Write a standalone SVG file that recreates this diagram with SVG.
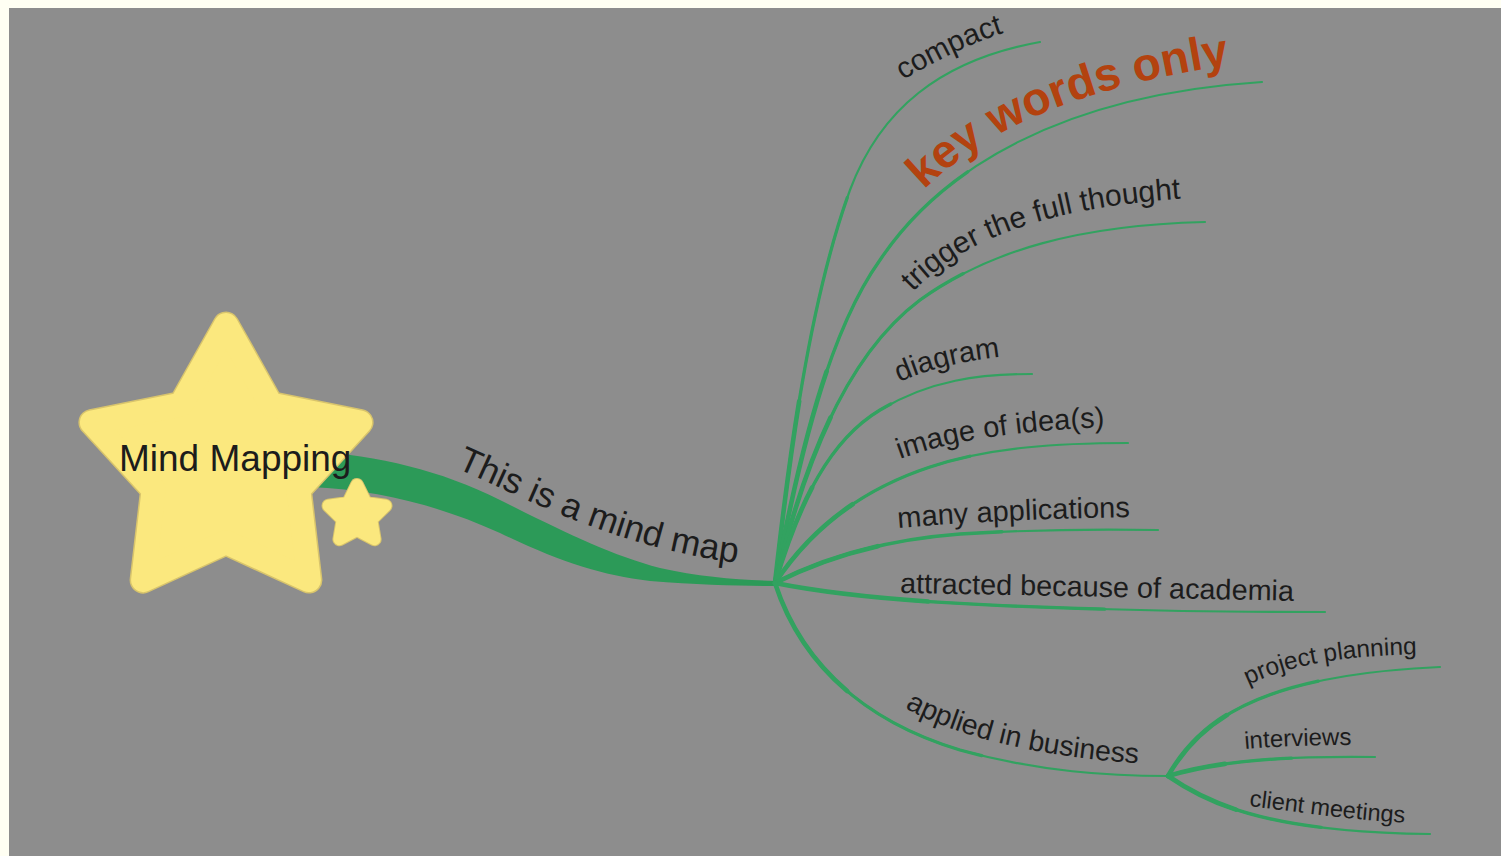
<svg xmlns="http://www.w3.org/2000/svg" width="1501" height="856" viewBox="0 0 1501 856">
<style>
.lbl{font-family:"Liberation Sans",Arial,Helvetica,sans-serif;fill:#1c1c1c;}
.br{fill:none;stroke:#32a260;stroke-linecap:round;stroke-linejoin:round;}
.w1{stroke-width:2.2;}
.w2{stroke-width:3.3;stroke-dasharray:60 200;}
.w3{stroke-width:4.6;stroke-dasharray:28 200;}
.star-edge{fill:#d8c46c;stroke:#d8c46c;stroke-linejoin:round;}
.star{fill:#fbe87e;stroke:#fbe87e;stroke-linejoin:round;}
</style>
<defs>
<path id="b_compact" pathLength="100" d="M 775 583 C 790 450, 810 300, 850 190 C 880 110, 940 60, 1040 42"/>
<path id="b_key" pathLength="100" d="M 775 583 C 800 450, 830 330, 880 260 C 940 170, 1060 95, 1262 82"/>
<path id="b_trig" pathLength="100" d="M 775 583 C 800 480, 840 360, 920 300 C 990 250, 1080 225, 1205 222"/>
<path id="b_diag" pathLength="100" d="M 775 583 C 800 500, 830 440, 880 410 C 930 380, 980 374, 1032 374"/>
<path id="b_img" pathLength="100" d="M 775 583 C 810 530, 860 490, 930 467 C 990 447, 1060 443, 1128 443"/>
<path id="b_many" pathLength="100" d="M 775 583 C 820 560, 880 540, 960 534 C 1040 529, 1100 529, 1158 530"/>
<path id="b_attr" pathLength="100" d="M 775 583 C 850 598, 950 605, 1100 609 C 1200 612, 1270 612, 1325 612"/>
<path id="b_app" pathLength="100" d="M 775 583 C 800 660, 860 720, 960 750 C 1040 772, 1110 776, 1168 776"/>
<path id="b_proj" pathLength="100" d="M 1168 776 C 1200 720, 1260 675, 1440 667"/>
<path id="b_int" pathLength="100" d="M 1168 776 C 1220 760, 1290 756, 1375 757"/>
<path id="b_cli" pathLength="100" d="M 1168 776 C 1210 805, 1270 832, 1430 834"/>

<path id="t_main" d="M 456 468 C 540 505, 625 552, 762 566"/>
<path id="t_compact" d="M 903 80 C 935 62, 970 42, 1020 28"/>
<path id="t_key" d="M 924 190 C 985 130, 1075 86, 1250 62"/>
<path id="t_trig" d="M 913 292 C 958 245, 1033 208, 1190 198"/>
<path id="t_diag" d="M 899 382 C 932 368, 967 360, 1010 356"/>
<path id="t_img" d="M 900 459 C 952 440, 1022 430, 1110 427"/>
<path id="t_many" d="M 898 528 C 980 521, 1060 518, 1140 517"/>
<path id="t_attr" d="M 900 593 C 1030 595, 1160 598, 1300 601"/>
<path id="t_app" d="M 905 708 C 960 738, 1040 757, 1146 764"/>
<path id="t_proj" d="M 1248 685 C 1292 664, 1342 656, 1422 654"/>
<path id="t_int" d="M 1245 749 C 1280 746, 1320 745, 1360 745"/>
<path id="t_cli" d="M 1249 806 C 1300 812, 1350 820, 1410 823"/>
</defs>

<rect x="0" y="0" width="1501" height="856" fill="#fffff3"/>
<rect x="9" y="8" width="1492" height="848" fill="#8d8d8d"/>

<g id="connectors">
  <path id="main-branch" fill="#2c9a58" d="M 310 451 C 380 456, 440 470, 500 500 C 560 530, 610 555, 660 568 C 700 577, 740 580, 776 581 L 776 586 C 740 586, 700 585, 650 581 C 600 575, 560 562, 500 533 C 440 506, 380 490, 310 487 Z"/>
  <g class="br">
    <use href="#b_compact" class="w1"/><use href="#b_compact" class="w2"/><use href="#b_compact" class="w3"/>
    <use href="#b_key" class="w1"/><use href="#b_key" class="w2"/><use href="#b_key" class="w3"/>
    <use href="#b_trig" class="w1"/><use href="#b_trig" class="w2"/><use href="#b_trig" class="w3"/>
    <use href="#b_diag" class="w1"/><use href="#b_diag" class="w2"/><use href="#b_diag" class="w3"/>
    <use href="#b_img" class="w1"/><use href="#b_img" class="w2"/><use href="#b_img" class="w3"/>
    <use href="#b_many" class="w1"/><use href="#b_many" class="w2"/><use href="#b_many" class="w3"/>
    <use href="#b_attr" class="w1"/><use href="#b_attr" class="w2"/><use href="#b_attr" class="w3"/>
    <use href="#b_app" class="w1"/><use href="#b_app" class="w2"/><use href="#b_app" class="w3"/>
    <use href="#b_proj" class="w1"/><use href="#b_proj" class="w2"/><use href="#b_proj" class="w3"/>
    <use href="#b_int" class="w1"/><use href="#b_int" class="w2"/><use href="#b_int" class="w3"/>
    <use href="#b_cli" class="w1"/><use href="#b_cli" class="w2"/><use href="#b_cli" class="w3"/>
  </g>
</g>

<g id="node-mind-mapping">
  <polygon class="star-edge" stroke-width="27" points="226,325 270.7,404.5 360.1,422.4 298.3,489.5 308.9,580.1 226,542 143.1,580.1 153.7,489.5 91.9,422.4 181.3,404.5"/>
  <polygon class="star" stroke-width="24" points="226,325 270.7,404.5 360.1,422.4 298.3,489.5 308.9,580.1 226,542 143.1,580.1 153.7,489.5 91.9,422.4 181.3,404.5"/>
  <text class="lbl" x="119" y="471" font-size="37">Mind Mapping</text>
</g>

<g id="node-small-star">
  <polygon class="star-edge" stroke-width="14" points="357,485 365.8,502.9 385.5,505.7 371.3,519.6 374.6,539.3 357,530 339.4,539.3 342.7,519.6 328.5,505.7 348.2,502.9"/>
  <polygon class="star" stroke-width="12" points="357,485 365.8,502.9 385.5,505.7 371.3,519.6 374.6,539.3 357,530 339.4,539.3 342.7,519.6 328.5,505.7 348.2,502.9"/>
</g>

<g id="node-this-is-a-mind-map"><text class="lbl" font-size="35.5"><textPath href="#t_main">This is a mind map</textPath></text></g>
<g id="node-compact"><text class="lbl" font-size="29.5"><textPath href="#t_compact">compact</textPath></text></g>
<g id="node-key-words-only"><text class="lbl" font-size="46.5" font-weight="bold" style="fill:#b3420f"><textPath href="#t_key">key words only</textPath></text></g>
<g id="node-trigger"><text class="lbl" font-size="30"><textPath href="#t_trig">trigger the full thought</textPath></text></g>
<g id="node-diagram"><text class="lbl" font-size="29"><textPath href="#t_diag">diagram</textPath></text></g>
<g id="node-image"><text class="lbl" font-size="29"><textPath href="#t_img">image of idea(s)</textPath></text></g>
<g id="node-many"><text class="lbl" font-size="29"><textPath href="#t_many">many applications</textPath></text></g>
<g id="node-attracted"><text class="lbl" font-size="28.8"><textPath href="#t_attr">attracted because of academia</textPath></text></g>
<g id="node-applied"><text class="lbl" font-size="28.4"><textPath href="#t_app">applied in business</textPath></text></g>
<g id="node-project"><text class="lbl" font-size="24.5"><textPath href="#t_proj">project planning</textPath></text></g>
<g id="node-interviews"><text class="lbl" font-size="24"><textPath href="#t_int">interviews</textPath></text></g>
<g id="node-client"><text class="lbl" font-size="23.5"><textPath href="#t_cli">client meetings</textPath></text></g>
</svg>
